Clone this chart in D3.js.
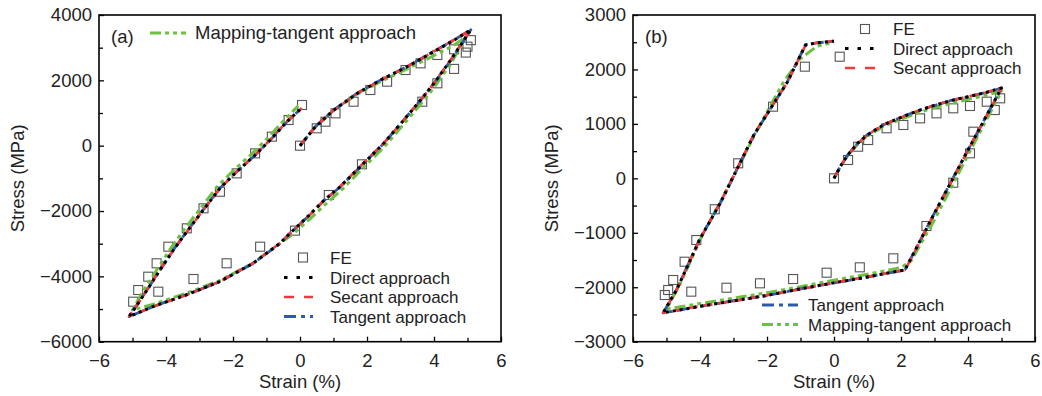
<!DOCTYPE html>
<html>
<head>
<meta charset="utf-8">
<script src="https://cdn.jsdelivr.net/npm/d3@7"></script>
<style>
  body { margin: 0; background: #fff; }
  text { font-family: "Liberation Sans", Arial, sans-serif; fill: #222; }
</style>
</head>
<body>
<svg id="chart" width="1042" height="396"></svg>
<script>
/*------------------------------
 DATA  (strain in %, stress in MPa)
 ----------------------------*/
// panel (a): simulated paths share the strain breakpoints
const aSimStrain = [0, 0.46, 1.01, 1.71, 2.41, 3.2, 4.0, 4.6, 5.1,
  4.5, 4.0, 3.6, 3.1, 2.5, 1.9, 1.2, 0.7, 0.2, -0.3, -0.6, -1.4, -2.4, -3.4, -4.4, -5.1,
  -4.63, -4.18, -3.78, -3.38, -2.89, -2.39, -1.89, -1.39, -0.89, -0.39, 0.05];
const aDirect = [0, 581, 1092, 1603, 2010, 2418, 2880, 3230, 3550,
  2622, 1909, 1398, 786, 73, -540, -1255, -1690, -2200, -2684, -2990, -3600, -4163, -4570, -4928, -5230,
  -4519, -3806, -3194, -2633, -1969, -1305, -796, -337, 174, 734, 1150];
const aSecant = [0, 575, 1085, 1598, 2005, 2420, 2885, 3240, 3545,
  2630, 1915, 1390, 780, 80, -530, -1250, -1700, -2210, -2690, -2985, -3595, -4160, -4575, -4935, -5225,
  -4510, -3800, -3200, -2640, -1975, -1310, -800, -330, 180, 740, 1145];
const aTangent = [0, 585, 1095, 1608, 2015, 2425, 2890, 3235, 3548,
  2615, 1905, 1395, 790, 70, -545, -1260, -1695, -2205, -2680, -2995, -3605, -4168, -4565, -4930, -5232,
  -4515, -3810, -3190, -2630, -1965, -1300, -790, -340, 170, 730, 1152];
const aMapStrain = [0, 0.5, 1.0, 1.7, 2.4, 3.2, 4.0, 4.6, 4.95,
  4.5, 4.0, 3.6, 3.1, 2.5, 1.9, 1.3, 0.8, 0.3, -0.2, -0.6, -1.4, -2.4, -3.4, -4.4, -5.0,
  -4.7, -4.25, -3.85, -3.45, -2.95, -2.45, -1.95, -1.45, -0.95, -0.45, -0.05];
const aMapping = [0, 620, 1080, 1570, 1960, 2350, 2760, 3080, 3330,
  2500, 1780, 1270, 660, -50, -660, -1300, -1760, -2240, -2700, -2990, -3590, -4130, -4520, -4860, -5030,
  -4480, -3760, -3130, -2560, -1890, -1230, -720, -260, 250, 810, 1220];
const aFeStrain = [0, 0.5, 0.76, 1.06, 1.6, 2.1, 2.6, 3.15, 3.6, 4.1, 4.6, 5.0, 5.1,
  4.95, 4.6, 4.1, 3.65, 1.85, 0.86, -0.15, -1.19, -2.19, -3.18, -4.23, -4.98,
  -4.83, -4.53, -4.28, -3.93, -3.38, -2.88, -2.39, -1.89, -1.34, -0.84, -0.34, 0.06];
const aFeStress = [0, 532, 734, 990, 1346, 1704, 1959, 2316, 2520, 2776, 2950, 3030, 3230,
  2850, 2350, 1909, 1346, -570, -1510, -2600, -3092, -3600, -4081, -4469, -4775,
  -4418, -4010, -3600, -3092, -2530, -1917, -1409, -847, -235, 276, 786, 1245];

// panel (b)
const bSimStrain = [0, 0.2, 0.4, 0.7, 1.0, 1.5, 2.0, 2.5, 3.0, 3.5, 4.0, 4.5, 5.0,
  4.0, 3.0, 2.12, 1.0, 0, -1.0, -2.0, -3.0, -4.0, -5.1,
  -4.7, -4.0, -3.4, -2.4, -1.4, -0.85, -0.5, 0];
const bDirect = [0, 230, 420, 640, 800, 990, 1120, 1240, 1340, 1430, 1500, 1570, 1660,
  520, -640, -1680, -1810, -1920, -2030, -2150, -2250, -2350, -2470,
  -2050, -1110, -460, 790, 1760, 2450, 2490, 2520];
const bSecant = [0, 225, 418, 636, 798, 992, 1118, 1238, 1342, 1428, 1502, 1568, 1662,
  515, -645, -1685, -1805, -1915, -2035, -2145, -2255, -2345, -2468,
  -2055, -1115, -455, 795, 1755, 2445, 2492, 2522];
const bTangent = [0, 232, 422, 642, 802, 988, 1122, 1242, 1338, 1432, 1498, 1572, 1658,
  525, -635, -1678, -1812, -1922, -2028, -2152, -2248, -2352, -2472,
  -2045, -1105, -465, 785, 1765, 2455, 2488, 2518];
const bMapStrain = [0, 0.2, 0.4, 0.7, 1.0, 1.5, 2.0, 2.5, 3.0, 3.5, 4.0, 4.5, 5.0,
  4.0, 3.0, 2.3, 2.0, 1.0, 0, -1.0, -2.0, -3.0, -4.0, -5.0,
  -4.6, -3.9, -3.3, -2.3, -1.5, -1.0, -0.5, 0];
const bMapping = [0, 220, 410, 620, 780, 960, 1090, 1200, 1300, 1380, 1450, 1520, 1600,
  430, -760, -1520, -1640, -1760, -1870, -1990, -2100, -2200, -2300, -2400,
  -1950, -1000, -330, 880, 1780, 2200, 2430, 2500];
const bFeStrain = [0, 0.42, 0.72, 1.02, 1.57, 2.07, 2.57, 3.06, 3.56, 4.06, 4.56, 4.96,
  4.8, 4.16, 4.06, 3.56, 2.76, 1.77, 0.77, -0.22, -1.22, -2.21, -3.21, -4.26,
  -5.05, -4.95, -4.8, -4.46, -4.11, -3.56, -2.86, -1.82, -0.87, 0.17];
const bFeStress = [0, 337, 581, 704, 919, 980, 1102, 1194, 1286, 1329, 1408, 1470,
  1255, 857, 460, -80, -875, -1469, -1634, -1733, -1849, -1928, -2009, -2081,
  -2143, -2051, -1867, -1531, -1133, -568, 276, 1316, 2051, 2234];

const X_MAJOR = [-6, -4, -2, 0, 2, 4, 6];
const X_MINOR = [-5, -3, -1, 1, 3, 5];
const aYMajor = [-6000, -4000, -2000, 0, 2000, 4000];
const aYMinor = [-5000, -3000, -1000, 1000, 3000];
const bYMajor = [-3000, -2000, -1000, 0, 1000, 2000, 3000];
const bYMinor = [-2500, -1500, -500, 500, 1500, 2500];

/*------------------------------
 STYLES
 ----------------------------*/
const FONT = "18.5px";
const LEGEND_FONT = "17px";
const STYLE = {
  direct:  {color: "#000000", width: 3,   dash: "3,4"},
  secant:  {color: "#f23a3a", width: 2.6, dash: "9,6"},
  tangent: {color: "#2a5cab", width: 2.8, dash: "12,4,4,4"},
  mapping: {color: "#6cc140", width: 3,   dash: "11,4,4,4,4,4"}
};
const LEGEND_DASH = {
  direct: "3.5,9", secant: "10,10", tangent: "12,5,4,5", mapping: "11,4,4,4,4,4"
};

const svg = d3.select("#chart");

function zipPts(xs, ys) { return xs.map((x, i) => [x, ys[i]]); }

function drawPanel(cfg) {
  const x = d3.scaleLinear().domain([-6, 6]).range([cfg.left, cfg.right]);
  const y = d3.scaleLinear().domain(cfg.yDomain).range([cfg.bottom, cfg.top]);
  const g = svg.append("g");

  // ticks (inward)
  const fmt = d3.format("d");
  const ax = (axis, vals, size, labels) => axis.tickValues(vals).tickSizeInner(-size).tickSizeOuter(0)
    .tickPadding(labels ? 8 : 0).tickFormat(labels ? fmt : "");
  const bx = g.append("g").attr("transform", `translate(0,${cfg.bottom})`)
    .call(ax(d3.axisBottom(x), X_MAJOR, 5, true));
  g.append("g").attr("transform", `translate(0,${cfg.bottom})`).call(ax(d3.axisBottom(x), X_MINOR, 4, false));
  const ly = g.append("g").attr("transform", `translate(${cfg.left},0)`)
    .call(ax(d3.axisLeft(y), cfg.yMajor, 5, true));
  g.append("g").attr("transform", `translate(${cfg.left},0)`).call(ax(d3.axisLeft(y), cfg.yMinor, 4, false));
  g.selectAll(".domain").remove();
  g.selectAll(".tick line").attr("stroke", "#000").attr("stroke-width", 1.3);
  g.selectAll(".tick text").style("font-size", FONT).attr("fill", "#222");
  bx.selectAll(".tick text").attr("dy", "0.9em").attr("y", 9);
  ly.selectAll(".tick text").attr("x", -7);

  // frame
  g.append("rect").attr("x", cfg.left).attr("y", cfg.top)
    .attr("width", cfg.right - cfg.left).attr("height", cfg.bottom - cfg.top)
    .attr("fill", "none").attr("stroke", "#000").attr("stroke-width", 1.6);

  // axis titles
  g.append("text").attr("x", (cfg.left + cfg.right) / 2).attr("y", 388)
    .attr("text-anchor", "middle").style("font-size", FONT).text("Strain (%)");
  g.append("text").attr("transform", `translate(${cfg.titleX},${(cfg.top + cfg.bottom) / 2}) rotate(-90)`)
    .attr("text-anchor", "middle").style("font-size", FONT).text("Stress (MPa)");
  g.append("text").attr("x", cfg.left + 12).attr("y", 43).style("font-size", FONT).text(cfg.label);

  // FE squares
  g.append("g").selectAll("rect").data(zipPts(cfg.feX, cfg.feY)).enter().append("rect")
    .attr("x", d => x(d[0]) - 4.5).attr("y", d => y(d[1]) - 4.5)
    .attr("width", 9).attr("height", 9)
    .attr("fill", "none").attr("stroke", "#555").attr("stroke-width", 1.1);

  // curves
  const line = d3.line().x(d => x(d[0])).y(d => y(d[1]));
  const series = [
    ["mapping", cfg.mapX, cfg.mapping],
    ["tangent", cfg.simX, cfg.tangent],
    ["secant", cfg.simX, cfg.secant],
    ["direct", cfg.simX, cfg.direct]
  ];
  series.forEach(([key, xs, ys]) => {
    const s = STYLE[key];
    g.append("path").attr("d", line(zipPts(xs, ys))).attr("fill", "none")
      .attr("stroke", s.color).attr("stroke-width", s.width).attr("stroke-dasharray", s.dash)
      .attr("stroke-linejoin", "round");
  });

  // legend
  cfg.legend.forEach(item => {
    if (item.key === "fe") {
      g.append("rect").attr("x", item.mx - 4.5).attr("y", item.y - 4.5).attr("width", 9).attr("height", 9)
        .attr("fill", "none").attr("stroke", "#555").attr("stroke-width", 1.1);
    } else {
      const s = STYLE[item.key];
      g.append("line").attr("x1", item.x0).attr("x2", item.x1).attr("y1", item.y).attr("y2", item.y)
        .attr("stroke", s.color).attr("stroke-width", s.width).attr("stroke-dasharray", LEGEND_DASH[item.key]);
    }
    g.append("text").attr("x", item.tx).attr("y", item.y + 6)
      .style("font-size", item.big ? FONT : LEGEND_FONT).text(item.text);
  });
}

drawPanel({
  left: 99, right: 501, top: 15, bottom: 341.7, titleX: 24,
  yDomain: [-6000, 4000], yMajor: aYMajor, yMinor: aYMinor, label: "(a)",
  simX: aSimStrain, direct: aDirect, secant: aSecant, tangent: aTangent,
  mapX: aMapStrain, mapping: aMapping, feX: aFeStrain, feY: aFeStress,
  legend: [
    {key: "mapping", x0: 150, x1: 186, y: 33, tx: 195, text: "Mapping-tangent approach", big: true},
    {key: "fe", mx: 303, y: 257.5, tx: 330, text: "FE"},
    {key: "direct", x0: 284, x1: 313, y: 277.5, tx: 330, text: "Direct approach"},
    {key: "secant", x0: 284, x1: 313, y: 297, tx: 330, text: "Secant approach"},
    {key: "tangent", x0: 284, x1: 313, y: 316.5, tx: 330, text: "Tangent approach"}
  ]
});

drawPanel({
  left: 633, right: 1035, top: 15, bottom: 341.7, titleX: 558,
  yDomain: [-3000, 3000], yMajor: bYMajor, yMinor: bYMinor, label: "(b)",
  simX: bSimStrain, direct: bDirect, secant: bSecant, tangent: bTangent,
  mapX: bMapStrain, mapping: bMapping, feX: bFeStrain, feY: bFeStress,
  legend: [
    {key: "fe", mx: 865, y: 29, tx: 893, text: "FE"},
    {key: "direct", x0: 845, x1: 876, y: 48.5, tx: 893, text: "Direct approach"},
    {key: "secant", x0: 845, x1: 876, y: 68, tx: 893, text: "Secant approach"},
    {key: "tangent", x0: 762, x1: 798, y: 305, tx: 808, text: "Tangent approach"},
    {key: "mapping", x0: 762, x1: 798, y: 324.5, tx: 808, text: "Mapping-tangent approach"}
  ]
});
</script>
</body>
</html>
